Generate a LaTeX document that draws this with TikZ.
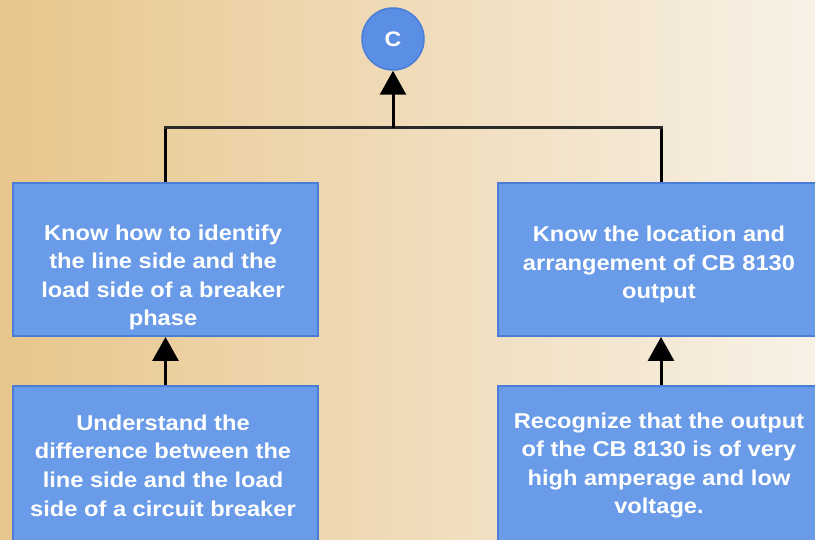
\documentclass[tikz,border=0pt]{standalone}
\usepackage{fontspec}
\setmainfont{Liberation Sans}
\newfontfamily\boxfont[FakeStretch=1.1]{Liberation Sans Bold}
\usetikzlibrary{arrows.meta}
\definecolor{bgL}{HTML}{E8C68C}
\definecolor{bgM}{HTML}{F1E0BE}
\definecolor{bgR}{HTML}{F7F1E6}
\definecolor{boxfill}{HTML}{6A9BE8}
\definecolor{boxline}{HTML}{4A7ED6}
\definecolor{circfill}{HTML}{5B8FE6}
\definecolor{hlinecol}{HTML}{2A2A2A}
\begin{document}
\begin{tikzpicture}[x=1pt,y=-1pt,
  box/.style={rectangle,draw=boxline,line width=2pt,fill=boxfill,inner sep=0pt},
  boxtext/.style={align=center,text=white,inner sep=0pt,font=\boxfont\fontsize{21.5}{28.6}\selectfont},
  conn/.style={draw=black,line width=3pt},
  hline/.style={draw=hlinecol,line width=3pt},
  arr/.style={draw=black,line width=3pt,-{Triangle[width=26pt,length=24pt]}}]
\useasboundingbox (0,0) rectangle (815,540);
\clip (0,0) rectangle (815,540);
\shade[left color=bgL,middle color=bgM,right color=bgR] (0,0) rectangle (815,540);
% circle
\node[circle,fill=circfill,draw=boxline,line width=1.5pt,minimum size=62pt,inner sep=0pt,text=white,font=\boxfont\fontsize{21}{21}\selectfont] (c) at (393,39) {C};
% boxes
\node[box,minimum width=305pt,minimum height=153pt] (b1) at (165.5,259.5) {};
\node[box,minimum width=326pt,minimum height=153pt] (b2) at (661,259.5) {};
\node[box,minimum width=305pt,minimum height=156pt] (b3) at (165.5,464) {};
\node[box,minimum width=326pt,minimum height=156pt] (b4) at (661,464) {};
% texts
\node[boxtext] (t1) at (163,277.5) {Know how to identify\\the line side and the\\load side of a breaker\\phase};
\node[boxtext] (t2) at (659,264.5) {Know the location and\\arrangement of CB 8130\\output};
\node[boxtext] (t3) at (163,465.5) {Understand the\\difference between the\\line side and the load\\side of a circuit breaker};
\node[boxtext] (t4) at (659,465.5) {Recognize that the output\\of the CB 8130 is of very\\high amperage and low\\voltage.};
% connectors
\coordinate (j) at (393,128);
\coordinate (jl) at (165.5,128);
\coordinate (jr) at (661,128);
\draw[conn] (b1.north) -- (jl);
\draw[conn] (b2.north) -- (jr);
\draw[hline] ([xshift=-1.5pt]jl) -- ([xshift=1.5pt]jr);
\draw[arr] (j) -- (c.south);
\draw[arr] (b3.north) -- (b1.south);
\draw[arr] (b4.north) -- (b2.south);
\end{tikzpicture}
\end{document}
